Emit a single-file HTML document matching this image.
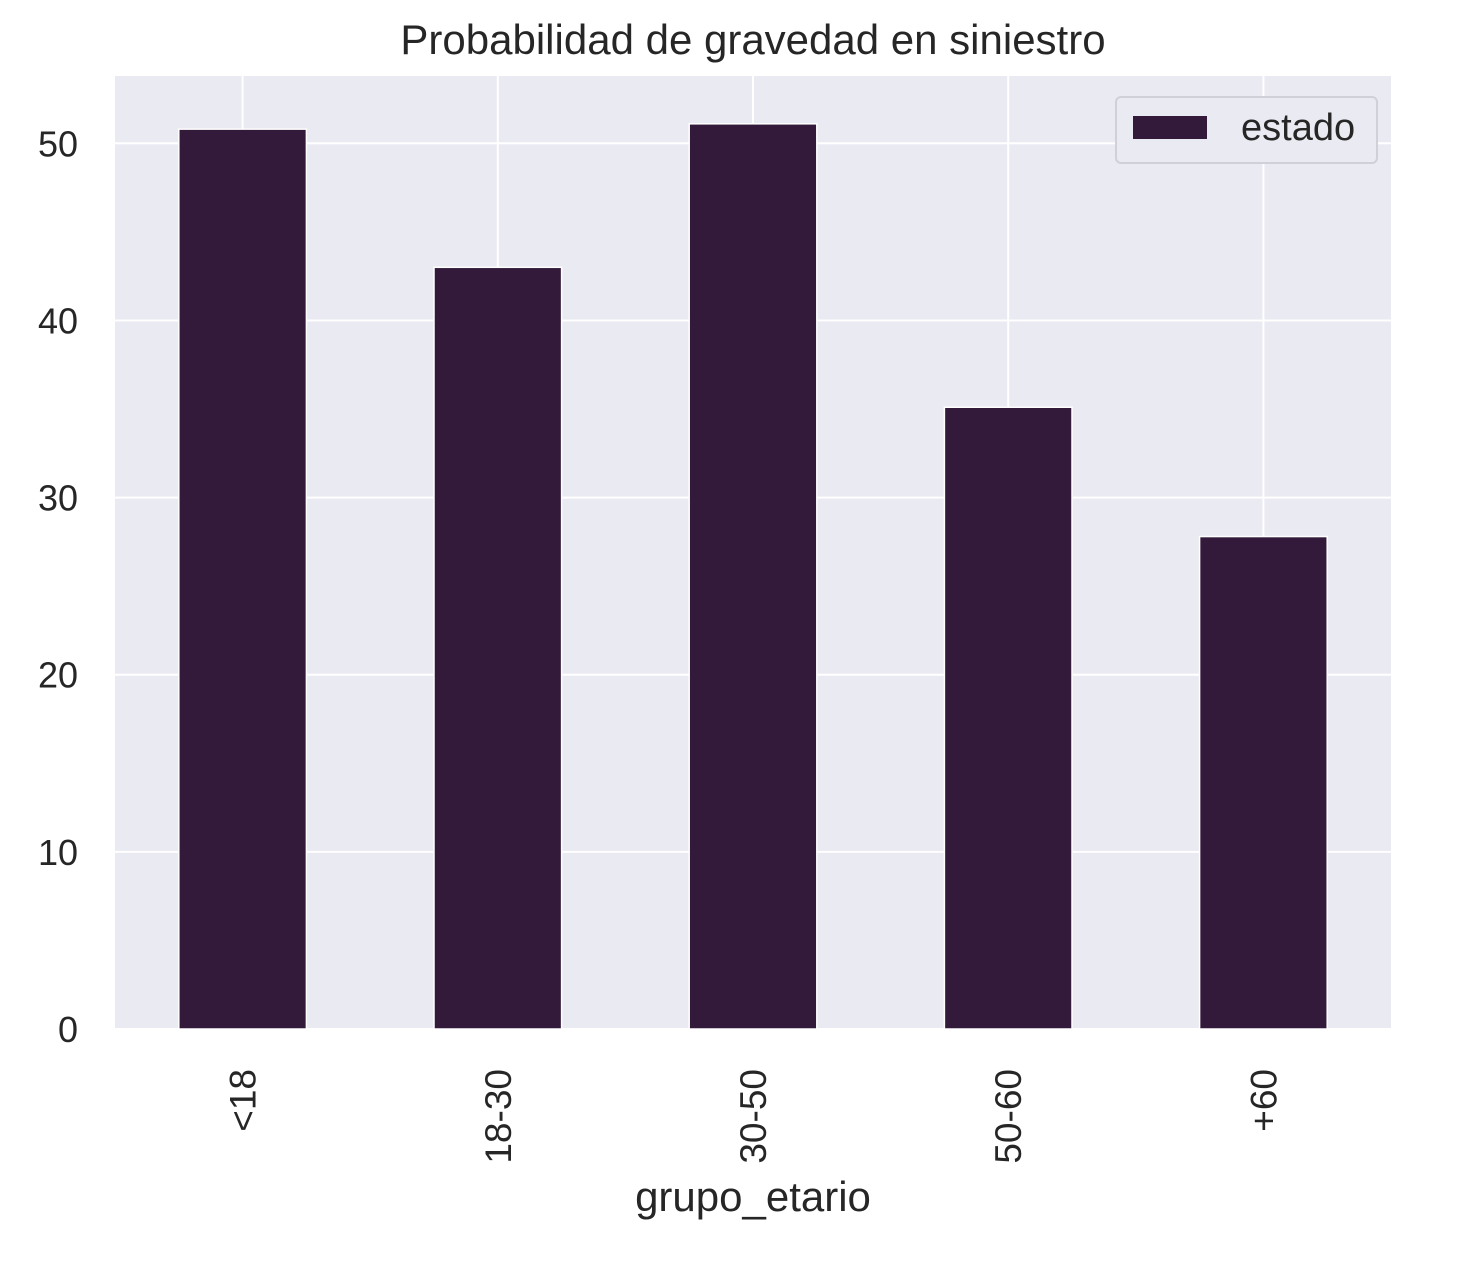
<!DOCTYPE html>
<html><head><meta charset="utf-8"><style>
body{margin:0;background:#fff;}
svg text{font-family:"Liberation Sans","DejaVu Sans",sans-serif;fill:#262626;}
</style></head><body>
<svg id="chart" width="1462" height="1256" xmlns="http://www.w3.org/2000/svg">
<rect x="115" y="76" width="1276" height="953" fill="#eaeaf2"/>
<g id="grid"></g><g id="bars"></g><g id="ticks"></g>
<text x="753" y="54" font-size="42" text-anchor="middle">Probabilidad de gravedad en siniestro</text>
<text x="753" y="1211" font-size="42" text-anchor="middle">grupo_etario</text>
<g>
<rect x="1116" y="97" width="261" height="66" rx="5" fill="#eaeaf2" stroke="#d0d0d8" stroke-width="2"/>
<rect x="1133" y="116" width="74" height="23" fill="#341a3a"/>
<text x="1241" y="140" font-size="38">estado</text>
</g>
</svg>
<script>
const categories=["<18","18-30","30-50","50-60","+60"];
const values=[50.8,43.0,51.1,35.1,27.8];
const yTicks=[0,10,20,30,40,50];
const L=115,R=1391,T=76,B=1029,yMax=53.8;
const xs=i=>L+(i+0.5)*(R-L)/categories.length;
const ys=v=>B-v*(B-T)/yMax;
const bw=0.5*(R-L)/categories.length;
const NS="http://www.w3.org/2000/svg";
const mk=(p,t,a)=>{const e=document.createElementNS(NS,t);for(const k in a)e.setAttribute(k,a[k]);document.getElementById(p).appendChild(e);return e;};
yTicks.forEach(v=>{
 const g=mk("grid","line",{x1:L,x2:R,y1:ys(v),y2:ys(v),stroke:"#fff","stroke-width":2});
 
 
 const t=mk("ticks","text",{x:L-37,y:ys(v)+13,"font-size":36,"text-anchor":"end"});
 t.textContent=v;
 
 
});
categories.forEach((c,i)=>{
 const g=mk("grid","line",{x1:xs(i),x2:xs(i),y1:T,y2:B,stroke:"#fff","stroke-width":2});
 
 
 const b=mk("bars","rect",{x:xs(i)-bw/2,y:ys(values[i]),width:bw,height:B-ys(values[i]),fill:"#341a3a",stroke:"#fff","stroke-width":1.5});
 
 
 const t=mk("ticks","text",{x:0,y:0,"font-size":37,"text-anchor":"end",transform:`translate(${xs(i)+13},1069) rotate(-90)`});
 t.textContent=c;
 
 
});
</script>
</body></html>
